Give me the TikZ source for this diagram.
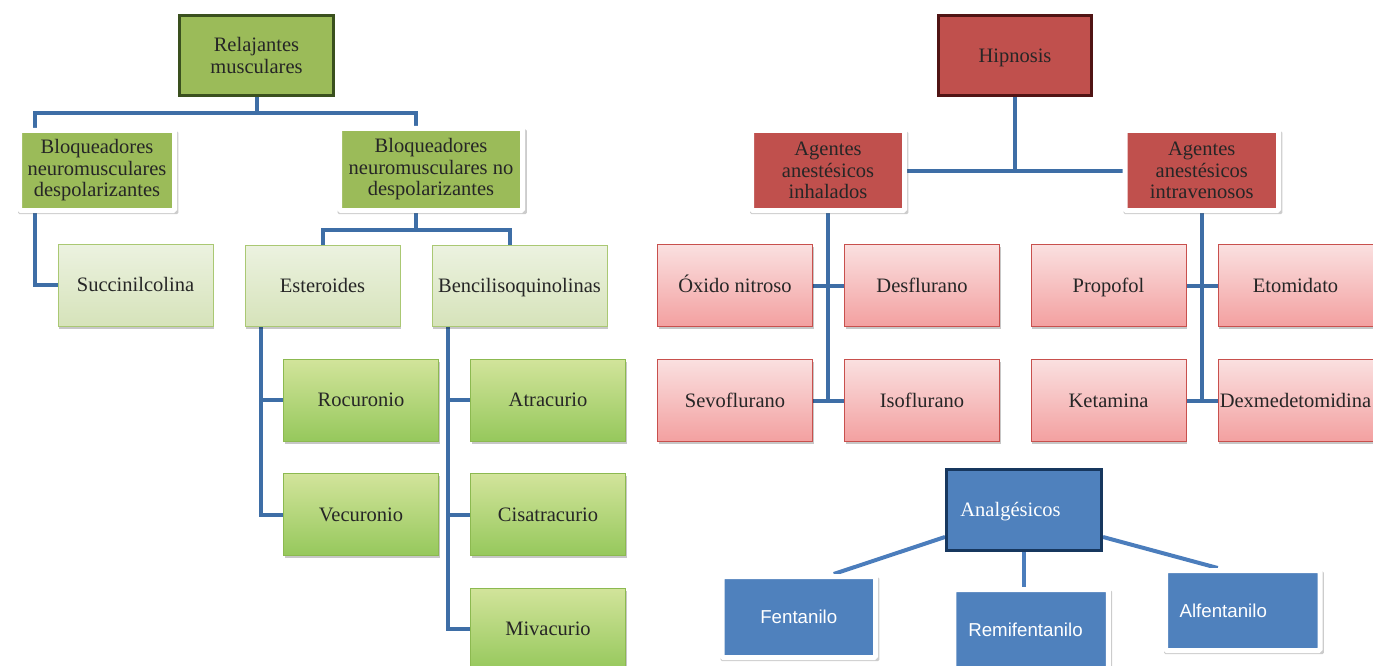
\documentclass[tikz,border=0pt]{standalone}
\usepackage{fontspec}
\setmainfont{Liberation Serif}
\newfontfamily\arialf{Liberation Sans}
\usetikzlibrary{shadows,backgrounds,calc}
\definecolor{txt}{RGB}{38,38,38}
\definecolor{gdk}{RGB}{155,187,89}
\definecolor{gbd}{RGB}{58,80,30}
\definecolor{glt}{RGB}{236,242,224}
\definecolor{glbt}{RGB}{214,227,186}
\definecolor{glb}{RGB}{170,200,115}
\definecolor{gmt}{RGB}{210,228,155}
\definecolor{gmb}{RGB}{150,200,92}
\definecolor{gmbd}{RGB}{140,185,80}
\definecolor{rdk}{RGB}{192,80,77}
\definecolor{rbd}{RGB}{80,20,20}
\definecolor{pkt}{RGB}{250,224,224}
\definecolor{pkb}{RGB}{243,160,160}
\definecolor{pkbd}{RGB}{200,80,77}
\definecolor{bl}{RGB}{79,129,189}
\definecolor{blbd}{RGB}{23,55,94}
\definecolor{conn}{RGB}{62,110,166}
\definecolor{conn2}{RGB}{75,125,188}
\tikzset{
  base/.style={rectangle, inner sep=0pt, align=center, font=\fontsize{20.5}{21.5}\selectfont, text=txt},
  one/.style={text height=16pt, text depth=2.5pt},
  topbox/.style={base, line width=3pt, minimum width=154pt, minimum height=80pt},
  framed/.style={base, draw=white, line width=5pt, rounded corners=1.5pt,
     general shadow={shadow xshift=1.2pt, shadow yshift=-2.2pt, shadow scale=1.035, fill=black, opacity=0.2}},
  plain/.style={base, one, line width=0.8pt, minimum width=155pt, minimum height=82pt,
     drop shadow={shadow xshift=1pt, shadow yshift=-2.5pt, fill=black, opacity=0.22}},
  lgreen/.style={plain, draw=glb, top color=glt, bottom color=glbt},
  mgreen/.style={plain, draw=gmbd, top color=gmt, bottom color=gmb},
  pink/.style={plain, draw=pkbd, top color=pkt, bottom color=pkb},
  bluebox/.style={framed, one, fill=bl, text=white, font=\arialf\fontsize{18.7}{21}\selectfont},
  cline/.style={draw=conn, line width=4pt},
  aline/.style={draw=conn2, line width=4pt},
}
\begin{document}
\begin{tikzpicture}[x=1pt,y=-1pt]
\useasboundingbox (0,0) rectangle (1373,666);
% ---- left tree
\node[topbox, draw=gbd, fill=gdk] (rel) at (256.5,55.5) {Relajantes\\musculares};
\node[framed, fill=gdk, minimum width=155pt, minimum height=80pt] (bd) at (97,170.5) {Bloqueadores\\neuromusculares\\despolarizantes};
\node[framed, fill=gdk, minimum width=183pt, minimum height=82pt] (bnd) at (431,169.5) {Bloqueadores\\neuromusculares no\\despolarizantes};
\node[lgreen] (suc) at (135.5,285) {Succinilcolina};
\node[lgreen, minimum height=81pt] (est) at (322.5,285.5) {Esteroides};
\node[lgreen, minimum height=81pt, minimum width=175pt] (ben) at (519.5,285.5) {Bencilisoquinolinas};
\node[mgreen] (roc) at (361,400) {Rocuronio};
\node[mgreen] (vec) at (361,514.5) {Vecuronio};
\node[mgreen] (atr) at (548,400) {Atracurio};
\node[mgreen] (cis) at (548,514.5) {Cisatracurio};
\node[mgreen] (miv) at (548,629) {Mivacurio};
% ---- right tree
\node[topbox, one, draw=rbd, fill=rdk, minimum width=153pt] (hip) at (1015,55.5) {Hipnosis};
\node[framed, fill=rdk, minimum width=153pt, minimum height=80pt] (inh) at (828,170.5) {Agentes\\anestésicos\\inhalados};
\node[framed, fill=rdk, minimum width=153.5pt, minimum height=80pt] (itv) at (1201.75,170.5) {Agentes\\anestésicos\\intravenosos};
\node[pink] (oxi) at (735,285.5) {Óxido nitroso};
\node[pink] (des) at (922,285.5) {Desflurano};
\node[pink] (sev) at (735,400.5) {Sevoflurano};
\node[pink] (iso) at (922,400.5) {Isoflurano};
\node[pink] (pro) at (1108.5,285.5) {Propofol};
\node[pink] (eto) at (1295.5,285.5) {Etomidato};
\node[pink] (ket) at (1108.5,400.5) {Ketamina};
\node[pink] (dex) at (1295.5,400.5) {Dexmedetomidina};
% ---- analgesics
\node[topbox, one, draw=blbd, fill=bl, text=white, minimum width=155pt, minimum height=81pt] (an) at (1024,509.5) {Analgésicos\hspace*{27pt}};
\node[bluebox, minimum width=153.5pt, minimum height=81pt] (fen) at (798.75,617) {Fentanilo};
\node[bluebox, minimum width=154.5pt, minimum height=81pt] (rem) at (1031,630) {Remifentanilo\hspace*{11pt}};
\node[bluebox, minimum width=154.5pt, minimum height=80pt] (alf) at (1242.75,610.5) {Alfentanilo\hspace*{39pt}};
% ---- connectors
\begin{scope}[on background layer]
  \coordinate (j1) at ($(rel.south)+(0,16)$);
  \draw[cline] (rel.south) -- (j1);
  \draw[cline] ([xshift=-62pt]bd.north) |- (j1) -| ([xshift=-15pt]bnd.north);
  \draw[cline] ([xshift=-62pt]bd.south) |- (suc.west);
  \coordinate (j2) at ($([xshift=-15pt]bnd.south)+(0,17)$);
  \draw[cline] ([xshift=-15pt]bnd.south) -- (j2);
  \draw[cline] (est.north) |- (j2) -| ([xshift=-10pt]ben.north);
  \coordinate (ej) at ([xshift=16pt]est.south west);
  \draw[cline] (ej) |- (vec.west);
  \draw[cline] (roc.west) -| (ej);
  \coordinate (bj) at ([xshift=16pt]ben.south west);
  \draw[cline] (bj) |- (miv.west);
  \draw[cline] (atr.west) -| (bj);
  \draw[cline] (cis.west) -| (bj);
  \draw[cline] (hip.south) -- (hip.south |- inh.east);
  \draw[cline, line cap=rect] (inh.east) -- (itv.west);
  \draw[cline] (inh.south) -- (inh.south |- sev.east);
  \draw[cline] (oxi.east) -- (des.west);
  \draw[cline] (sev.east) -- (iso.west);
  \draw[cline] (itv.south) -- (itv.south |- ket.east);
  \draw[cline] (pro.east) -- (eto.west);
  \draw[cline] (ket.east) -- (dex.west);
  \draw[aline] ([yshift=-27.5pt]an.west) -- ([xshift=35pt]fen.north);
  \draw[aline] (an.south) -- (an.south |- rem.north);
  \draw[aline] ([yshift=-27.5pt]an.east) -- ([xshift=-25pt]alf.north);
\end{scope}
\end{tikzpicture}
\end{document}
